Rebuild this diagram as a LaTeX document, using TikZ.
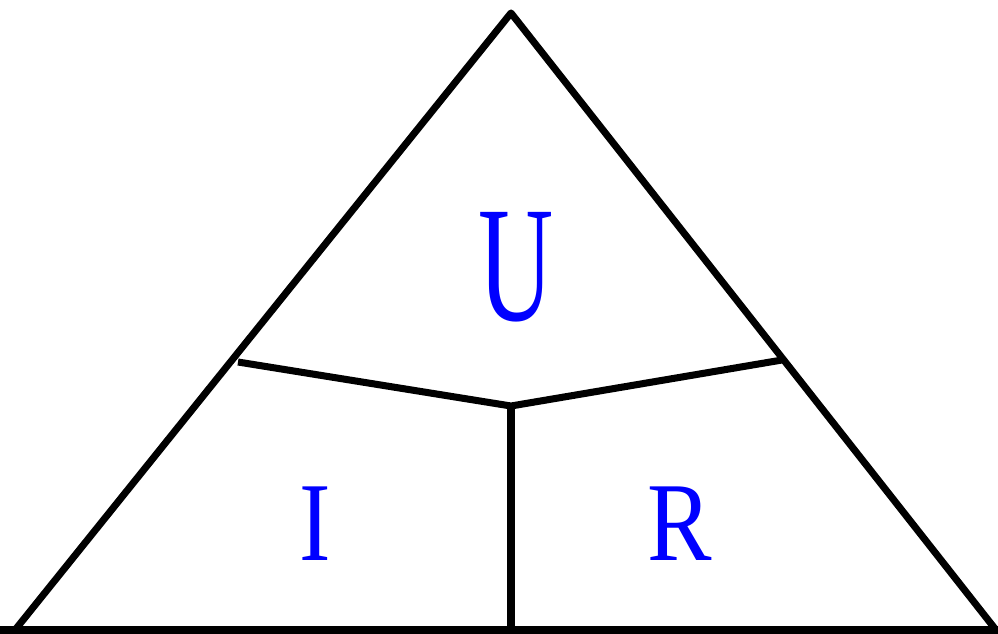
\documentclass[tikz,border=0pt]{standalone}
\usepackage{fontspec}
\setmainfont{Liberation Serif}
\newfontfamily\letterfont{Liberation Serif}
\usepackage{graphicx}
\usepackage{tikz}
\usetikzlibrary{positioning,calc}
\newcommand{\narrowletter}[2]{\scalebox{#1}[1]{#2}}
\tikzset{
    triangleedge/.style={line width=4pt, line join=round},
    letterlabel/.style={text=blue, inner sep=0pt, anchor=base}
}

\begin{document}
\begin{tikzpicture}[x=0.02cm, y=-0.02cm]
        \useasboundingbox (0,0) rectangle (998,633);
        \coordinate (apex) at (511,13);
        \coordinate (leftc) at (15,630);
        \coordinate (rightc) at (996,630);
        \coordinate (hub) at (511,406);
        \coordinate (lefttick) at (238,362);
        \coordinate (righttick) at (782,360);
        \coordinate (basemid) at (511,630);
        \node[letterlabel, font=\letterfont\fontsize{94}{94}\selectfont] (volt) at (516,320) {\narrowletter{0.63}{U}};
        \node[letterlabel, font=\letterfont\fontsize{64}{64}\selectfont] (curr) at (315,560) {\narrowletter{0.84}{I}};
        \node[letterlabel, font=\letterfont\fontsize{64}{64}\selectfont] (resi) at (680,560) {\narrowletter{0.86}{R}};
        \draw[triangleedge] (leftc) -- (apex) -- (rightc);
        \draw[triangleedge] (0,630) -- (998,630);
        \draw[triangleedge] (lefttick) -- (hub) -- (righttick);
        \draw[triangleedge] (hub) -- (basemid);
    \end{tikzpicture}
\end{document}
